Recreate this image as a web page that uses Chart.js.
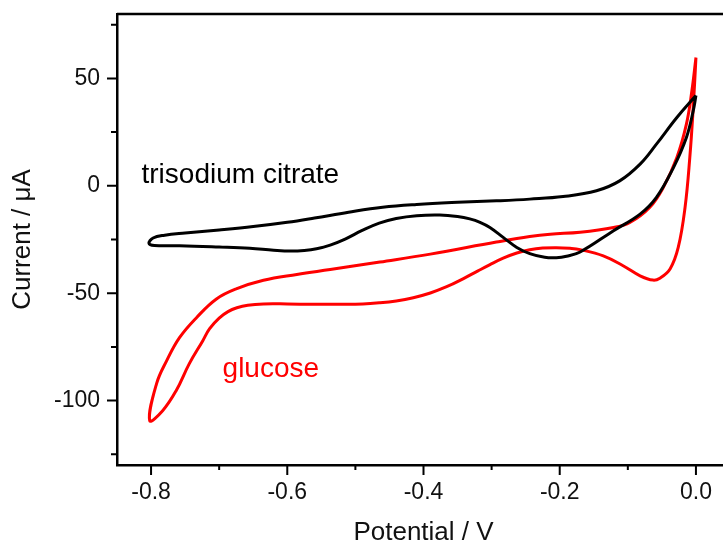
<!DOCTYPE html>
<html>
<head>
<meta charset="utf-8">
<script src="https://cdn.jsdelivr.net/npm/chart.js@4.4.0/dist/chart.umd.min.js"></script>
<style>
  html, body { margin: 0; padding: 0; background: white; overflow: hidden; }
</style>
</head>
<body>
<canvas id="cv" width="740" height="560"></canvas>
<script>
// Cyclic voltammograms, potential in V, current in uA
// trisodium citrate: starts at 0 V, sweeps to -0.8 V and back
const citrateV = [0, -0.028, -0.058, -0.082, -0.112, -0.146, -0.195, -0.244, -0.293, -0.35, -0.41, -0.46,
  -0.51, -0.56, -0.60, -0.65, -0.70, -0.75, -0.78, -0.797, -0.803,
  -0.795, -0.758, -0.70, -0.655, -0.62, -0.595, -0.575, -0.557, -0.537, -0.515, -0.49, -0.465, -0.44, -0.41,
  -0.376, -0.35, -0.332, -0.317, -0.3025, -0.283, -0.263, -0.244, -0.222, -0.205, -0.19, -0.170, -0.121,
  -0.082, -0.058, -0.033, -0.014, -0.004, 0];
const citrateI = [42, 31.8, 19.4, 10.1, 2.3, -2.3, -5.0, -6.2, -7.0, -7.7, -8.7, -10.0,
  -12.3, -15.0, -17.0, -19.0, -20.6, -22.0, -23.0, -24.3, -26.8,
  -27.8, -27.9, -28.5, -29.1, -30.0, -30.4, -30.1, -29.3, -27.6, -24.8, -20.8, -17.4, -15.2, -13.9,
  -13.6, -14.3, -15.4, -17.0, -19.4, -24.0, -28.7, -31.6, -33.3, -33.5, -32.8, -30.8, -20.9,
  -13.2, -5.4, 8.5, 22.5, 34.9, 42];

// glucose
const glucoseV = [0, -0.006, -0.014, -0.028, -0.048, -0.068, -0.097, -0.121, -0.170, -0.214, -0.244, -0.293,
  -0.390, -0.464, -0.508, -0.537, -0.586, -0.635, -0.675, -0.704, -0.733, -0.758, -0.777, -0.792, -0.802,
  -0.783, -0.763, -0.744, -0.724, -0.714, -0.70, -0.687, -0.674, -0.658, -0.635, -0.60, -0.54, -0.489,
  -0.465, -0.440, -0.415, -0.390, -0.366, -0.342, -0.32, -0.303, -0.283, -0.263, -0.244, -0.225, -0.205,
  -0.185, -0.170, -0.136, -0.107, -0.082, -0.063, -0.053, -0.038, -0.026, -0.016, -0.009, -0.004, 0];
const glucoseI = [59.7, 44.2, 28.7, 13.2, -0.8, -10.1, -17.1, -19.4, -21.6, -22.5, -23.6, -26.2,
  -31.8, -35.5, -37.6, -39.0, -41.3, -44.0, -48, -52.7, -61.3, -70.6, -81.4, -92.2, -109.3,
  -104.7, -95.3, -82.9, -72.1, -66.5, -61.6, -58.6, -56.8, -55.6, -55.0, -55.0, -55.2, -55.0,
  -54.5, -53.6, -52.1, -49.9, -47.0, -43.3, -39.6, -36.8, -33.7, -31.3, -29.8, -29.0, -28.8,
  -29.1, -29.7, -32.6, -37.2, -41.9, -43.9, -43, -38.7, -28.7, -10.1, 13.2, 36.4, 59.7];

const xMajor = [-0.8, -0.6, -0.4, -0.2, 0.0];
const xMinor = [-0.7, -0.5, -0.3, -0.1];
const yMajor = [-100, -50, 0, 50];
const yMinor = [-125, -75, -25, 25, 75];

const labels = [
  { text: "trisodium citrate", v: -0.814, i: 1.5, color: "#000" },
  { text: "glucose", v: -0.695, i: -89.2, color: "#ff0000" },
];

const FONT = "'Liberation Sans', Arial, sans-serif";

const toPoints = (xs, ys) => xs.map((v, k) => ({ x: v, y: ys[k] }));

// frame on top, tick marks (major + minor) and the curve labels
const frameTicks = {
  id: "frameTicks",
  afterDraw(chart) {
    const { ctx, chartArea: a, scales } = chart;
    const x = scales.x;
    const y = scales.y;
    ctx.save();
    ctx.strokeStyle = "#000";
    ctx.lineWidth = 2.5;
    ctx.beginPath();
    ctx.moveTo(a.left, a.top);
    ctx.lineTo(a.right, a.top);
    ctx.lineTo(a.right, a.bottom);
    ctx.stroke();

    ctx.lineWidth = 2;
    ctx.beginPath();
    xMajor.forEach((v) => {
      const px = x.getPixelForValue(v);
      ctx.moveTo(px, a.bottom);
      ctx.lineTo(px, a.bottom + 10);
    });
    xMinor.forEach((v) => {
      const px = x.getPixelForValue(v);
      ctx.moveTo(px, a.bottom);
      ctx.lineTo(px, a.bottom + 5);
    });
    yMajor.forEach((v) => {
      const py = y.getPixelForValue(v);
      ctx.moveTo(a.left, py);
      ctx.lineTo(a.left - 10, py);
    });
    yMinor.forEach((v) => {
      const py = y.getPixelForValue(v);
      ctx.moveTo(a.left, py);
      ctx.lineTo(a.left - 6, py);
    });
    ctx.stroke();

    ctx.font = "28px " + FONT;
    ctx.textAlign = "left";
    ctx.textBaseline = "alphabetic";
    labels.forEach((l) => {
      ctx.fillStyle = l.color;
      ctx.fillText(l.text, x.getPixelForValue(l.v), y.getPixelForValue(l.i));
    });
    ctx.restore();
  },
};

new Chart(document.getElementById("cv").getContext("2d"), {
  type: "scatter",
  data: {
    datasets: [
      {
        label: "trisodium citrate",
        data: toPoints(citrateV, citrateI),
        borderColor: "#000",
        borderWidth: 3,
        showLine: true,
        pointRadius: 0,
        tension: 0.4,
      },
      {
        label: "glucose",
        data: toPoints(glucoseV, glucoseI),
        borderColor: "#ff0000",
        borderWidth: 3,
        showLine: true,
        pointRadius: 0,
        tension: 0.4,
      },
    ],
  },
  options: {
    responsive: false,
    animation: false,
    layout: { padding: { top: 14, right: 10, left: 0, bottom: 0 } },
    plugins: {
      legend: { display: false },
      tooltip: { enabled: false },
    },
    scales: {
      x: {
        type: "linear",
        min: -0.85,
        max: 0.05,
        afterBuildTicks: (s) => { s.ticks = xMajor.map((v) => ({ value: v })); },
        afterFit: (s) => {
          s.height = 95;
          s.paddingLeft = 0;
          s.paddingRight = 0;
        },
        grid: { display: false, drawTicks: false },
        border: { display: true, color: "#000", width: 2.5 },
        ticks: {
          autoSkip: false,
          maxRotation: 0,
          padding: 14,
          color: "#111",
          font: { family: FONT, size: 23 },
          callback: (v) => Number(v).toFixed(1),
        },
        title: {
          display: true,
          text: "Potential / V",
          color: "#111",
          font: { family: FONT, size: 26 },
          padding: { top: 0, bottom: 12 },
        },
      },
      y: {
        type: "linear",
        min: -130,
        max: 80,
        afterBuildTicks: (s) => { s.ticks = yMajor.map((v) => ({ value: v })); },
        afterFit: (s) => {
          s.width = 117;
          s.paddingTop = 0;
          s.paddingBottom = 0;
        },
        grid: { display: false, drawTicks: false },
        border: { display: true, color: "#000", width: 2.5 },
        ticks: {
          padding: 17,
          color: "#111",
          font: { family: FONT, size: 23 },
          callback: (v) => String(v),
        },
        title: {
          display: true,
          text: "Current / μA",
          color: "#111",
          font: { family: FONT, size: 26 },
          padding: { top: 7, bottom: 0 },
        },
      },
    },
  },
  plugins: [frameTicks],
});
</script>
</body>
</html>
